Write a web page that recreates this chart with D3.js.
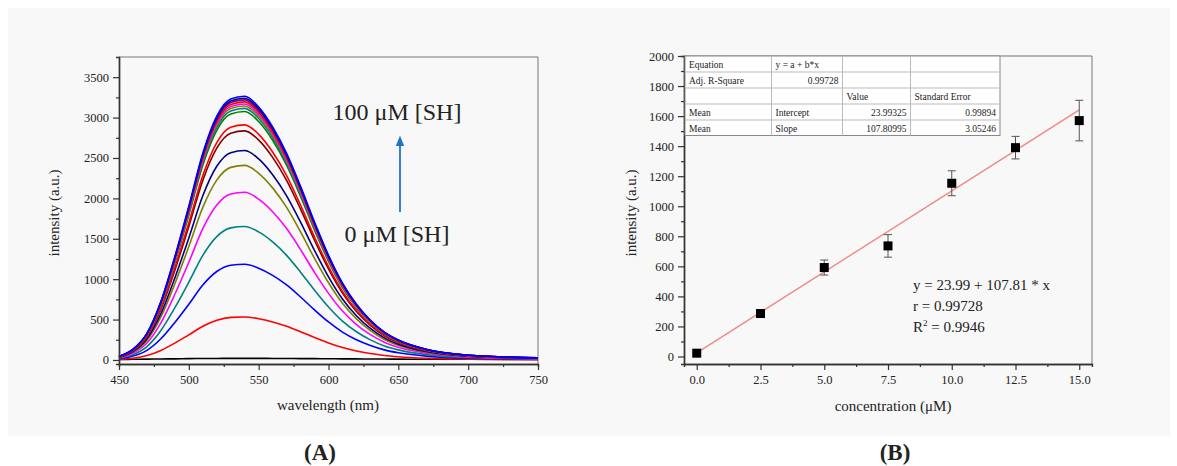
<!DOCTYPE html>
<html lang="en">
<head>
<meta charset="UTF-8">
<title>Fluorescence spectra and calibration</title>
<script src="https://d3js.org/d3.v7.min.js"></script>
<style>
  body { margin: 0; padding: 0; background: #fff; }
  svg text { font-family: "Liberation Serif", "Times New Roman", serif; fill: #222; }
  .domain { stroke: #333; stroke-width: 1.4px; }
  .tick line { stroke: #333; stroke-width: 1.2px; }
</style>
</head>
<body>
<div id="chart"></div>
<script>
// ---- panel A: emission spectra ----
const wavelengths = [450, 460, 470, 480, 490, 500, 510, 520, 530, 540, 550, 560, 570, 580, 590, 600, 610, 620, 630, 640, 650, 670, 700, 750];
const spectrumColors = ["#000000", "#ff0000", "#0000ff", "#008080", "#ff00ff", "#808000", "#000080", "#800000", "#ff0000",
  "#008000", "#008080", "#808000", "#ff00ff", "#ff0000", "#800080", "#000080", "#0000ff"];
const spectra = [
  [5, 8, 10, 12, 14, 16, 18, 19, 20, 20, 20, 19, 18, 17, 16, 15, 14, 13, 12, 11, 10, 9, 8, 7],
  [7, 21, 54, 118, 209, 310, 417, 492, 527, 532, 511, 471, 417, 350, 278, 211, 155, 112, 80, 56, 40, 21, 10, 4],
  [15, 48, 119, 262, 464, 690, 928, 1095, 1172, 1184, 1136, 1047, 928, 779, 619, 470, 345, 250, 179, 125, 89, 48, 21, 10],
  [22, 66, 166, 365, 647, 963, 1295, 1527, 1635, 1652, 1585, 1461, 1295, 1087, 863, 656, 481, 349, 249, 174, 125, 66, 30, 13],
  [27, 83, 209, 459, 813, 1209, 1626, 1918, 2054, 2075, 1991, 1835, 1626, 1366, 1084, 824, 605, 438, 313, 219, 156, 83, 38, 17],
  [31, 97, 242, 532, 944, 1404, 1888, 2226, 2384, 2408, 2311, 2130, 1888, 1585, 1258, 956, 702, 508, 363, 254, 182, 97, 44, 19],
  [34, 104, 261, 573, 1016, 1511, 2032, 2397, 2566, 2592, 2488, 2292, 2032, 1706, 1355, 1029, 755, 547, 391, 274, 195, 104, 47, 21],
  [37, 114, 285, 627, 1112, 1653, 2223, 2622, 2807, 2836, 2722, 2508, 2223, 1867, 1482, 1126, 827, 599, 428, 299, 214, 114, 51, 23],
  [38, 117, 293, 644, 1141, 1697, 2282, 2691, 2881, 2910, 2793, 2574, 2282, 1916, 1521, 1155, 848, 614, 439, 307, 219, 117, 53, 23],
  [40, 124, 309, 680, 1205, 1792, 2410, 2843, 3044, 3075, 2951, 2719, 2410, 2024, 1607, 1221, 896, 649, 464, 324, 232, 124, 56, 25],
  [41, 125, 313, 689, 1221, 1815, 2441, 2880, 3083, 3114, 2989, 2754, 2441, 2050, 1628, 1236, 908, 657, 470, 329, 235, 125, 56, 25],
  [41, 126, 316, 695, 1232, 1833, 2465, 2907, 3113, 3144, 3018, 2781, 2465, 2070, 1643, 1248, 916, 664, 474, 332, 237, 126, 57, 25],
  [41, 127, 319, 701, 1242, 1847, 2484, 2930, 3137, 3169, 3042, 2803, 2484, 2086, 1656, 1258, 924, 669, 478, 334, 239, 127, 57, 25],
  [42, 128, 321, 706, 1252, 1862, 2504, 2953, 3162, 3194, 3066, 2825, 2504, 2103, 1669, 1268, 931, 674, 482, 337, 241, 128, 58, 26],
  [42, 129, 324, 712, 1262, 1876, 2523, 2976, 3186, 3219, 3089, 2847, 2523, 2119, 1682, 1278, 938, 679, 485, 340, 243, 129, 58, 26],
  [42, 130, 326, 716, 1269, 1888, 2539, 2995, 3206, 3239, 3109, 2864, 2539, 2132, 1693, 1286, 944, 684, 488, 342, 244, 130, 59, 26],
  [43, 131, 328, 722, 1279, 1902, 2558, 3018, 3231, 3264, 3132, 2886, 2558, 2148, 1706, 1296, 951, 689, 492, 344, 246, 131, 59, 26]
];
const spectrumYTicks = [0, 500, 1000, 1500, 2000, 2500, 3000, 3500];
const spectrumXTicks = [450, 500, 550, 600, 650, 700, 750];

// ---- panel B: calibration ----
const concentration = [0, 2.5, 5.0, 7.5, 10.0, 12.5, 15.0];
const intensityMean = [22, 286, 592, 736, 1153, 1390, 1570];
const intensityErr = [6, 10, 50, 75, 83, 75, 135];
const fitIntercept = 23.99;
const fitSlope = 107.81;
const fitTable = [
  ["Equation", "y = a + b*x", "", ""],
  ["Adj. R-Square", "0.99728", "", ""],
  ["", "", "Value", "Standard Error"],
  ["Mean", "Intercept", "23.99325", "0.99894"],
  ["Mean", "Slope", "107.80995", "3.05246"]
];
const concTicks = [0, 2.5, 5, 7.5, 10, 12.5, 15];
const calYTicks = d3.range(0, 2001, 200);

const W = 1177, H = 466;
const SERIF = "'Liberation Serif', 'Times New Roman', serif";
const svg = d3.select("#chart").append("svg").attr("width", W).attr("height", H);

svg.append("rect").attr("x", 8).attr("y", 8).attr("width", 1162).attr("height", 428).attr("fill", "#f8f8f8");

function frame(g, x0, x1, y0, y1) {
  g.append("path").attr("d", `M${x0},${y0}H${x1}V${y1}`)
    .attr("fill", "none").attr("stroke", "#777").attr("stroke-width", 1);
}
// axis with serif labels
function styled(sel) {
  sel.attr("font-family", SERIF).attr("font-size", 12.5);
  sel.selectAll("text").style("font-family", SERIF).style("font-size", "12.5px").attr("fill", "#222");
}

// ============ panel A ============
const xA = d3.scaleLinear().domain([450, 750]).range([119, 538]);
const yA = d3.scaleLinear().domain([-50, 3750]).range([364, 57]);
const gA = svg.append("g");

frame(gA, xA.range()[0], xA.range()[1], yA.range()[1], yA.range()[0]);

const line = d3.line().x((d, i) => xA(wavelengths[i])).y(d => yA(d)).curve(d3.curveMonotoneX);
spectra.forEach((s, k) => {
  gA.append("path").datum(s).attr("d", line)
    .attr("fill", "none").attr("stroke", spectrumColors[k]).attr("stroke-width", 1.6);
});

gA.append("g").attr("transform", `translate(0,${yA.range()[0]})`)
  .call(d3.axisBottom(xA).tickValues(d3.range(475, 750, 50)).tickSize(3).tickFormat(""));
gA.append("g").attr("transform", `translate(0,${yA.range()[0]})`)
  .call(d3.axisBottom(xA).tickValues(spectrumXTicks).tickSize(6).tickPadding(5).tickSizeOuter(0).tickFormat(d3.format("d")))
  .call(styled);
gA.append("g").attr("transform", `translate(${xA.range()[0]},0)`)
  .call(d3.axisLeft(yA).tickValues(d3.range(250, 3750, 500)).tickSize(3).tickFormat(""));
gA.append("g").attr("transform", `translate(${xA.range()[0]},0)`)
  .call(d3.axisLeft(yA).tickValues(spectrumYTicks).tickSize(6).tickPadding(4).tickSizeOuter(0).tickFormat(d3.format("d")))
  .call(styled);

gA.append("text").attr("x", 328).attr("y", 410).attr("text-anchor", "middle")
  .attr("font-size", 15).text("wavelength (nm)");
gA.append("text").attr("transform", "translate(59,213) rotate(-90)").attr("text-anchor", "middle")
  .attr("font-size", 15).text("intensity (a.u.)");

gA.append("text").attr("x", 397).attr("y", 120).attr("text-anchor", "middle")
  .attr("font-size", 24).text("100 μM [SH]");
gA.append("text").attr("x", 397).attr("y", 242).attr("text-anchor", "middle")
  .attr("font-size", 24).text("0 μM [SH]");
svg.append("defs").append("marker").attr("id", "arr").attr("viewBox", "0 0 10 10")
  .attr("refX", 5).attr("refY", 5).attr("markerWidth", 6).attr("markerHeight", 6)
  .attr("orient", "auto").append("path").attr("d", "M0,1L10,5L0,9Z").attr("fill", "#1f73cf");
gA.append("line").attr("x1", 400).attr("x2", 400).attr("y1", 212).attr("y2", 141)
  .attr("stroke", "#1f73cf").attr("stroke-width", 1.8).attr("marker-end", "url(#arr)");

// ============ panel B ============
const xB = d3.scaleLinear().domain([-0.5, 15.5]).range([684, 1092]);
const yB = d3.scaleLinear().domain([-50, 2000]).range([364, 56]);
const gB = svg.append("g");

frame(gB, xB.range()[0], xB.range()[1], yB.range()[1], yB.range()[0]);

gB.append("g").attr("transform", `translate(0,${yB.range()[0]})`)
  .call(d3.axisBottom(xB).tickValues(d3.range(1.25, 15.5, 2.5)).tickSize(3).tickFormat(""));
gB.append("g").attr("transform", `translate(0,${yB.range()[0]})`)
  .call(d3.axisBottom(xB).tickValues(concTicks).tickSize(6).tickPadding(5).tickSizeOuter(0).tickFormat(d3.format(".1f")))
  .call(styled);
gB.append("g").attr("transform", `translate(${xB.range()[0]},0)`)
  .call(d3.axisLeft(yB).tickValues(d3.range(100, 2000, 200)).tickSize(3).tickFormat(""));
gB.append("g").attr("transform", `translate(${xB.range()[0]},0)`)
  .call(d3.axisLeft(yB).tickValues(calYTicks).tickSize(6).tickPadding(4).tickSizeOuter(0).tickFormat(d3.format("d")))
  .call(styled);

// fit line
gB.append("line")
  .attr("x1", xB(0)).attr("y1", yB(fitIntercept))
  .attr("x2", xB(15)).attr("y2", yB(fitIntercept + fitSlope * 15))
  .attr("stroke", "#f08a84").attr("stroke-width", 1.4);

// error bars
const eb = gB.append("g").attr("stroke", "#555").attr("stroke-width", 1);
concentration.forEach((c, i) => {
  const x = xB(c), ylo = yB(intensityMean[i] - intensityErr[i]), yhi = yB(intensityMean[i] + intensityErr[i]);
  eb.append("line").attr("x1", x).attr("x2", x).attr("y1", ylo).attr("y2", yhi);
  eb.append("line").attr("x1", x - 4).attr("x2", x + 4).attr("y1", ylo).attr("y2", ylo);
  eb.append("line").attr("x1", x - 4).attr("x2", x + 4).attr("y1", yhi).attr("y2", yhi);
});
gB.selectAll("rect.pt").data(concentration).join("rect").attr("class", "pt")
  .attr("x", d => xB(d) - 4.5).attr("y", (d, i) => yB(intensityMean[i]) - 4.5)
  .attr("width", 9).attr("height", 9).attr("fill", "#000");

// results table
const colX = [685, 771.5, 842.5, 910.5, 1000];
const rowY = [56, 72, 88, 104, 120, 135.5];
const tb = gB.append("g");
tb.append("rect").attr("x", colX[0]).attr("y", rowY[0]).attr("width", colX[4] - colX[0])
  .attr("height", rowY[5] - rowY[0]).attr("fill", "#fff").attr("stroke", "#888").attr("stroke-width", 1);
rowY.slice(1, 5).forEach(y => tb.append("line").attr("x1", colX[0]).attr("x2", colX[4])
  .attr("y1", y).attr("y2", y).attr("stroke", "#bbb"));
colX.slice(1, 4).forEach(x => tb.append("line").attr("x1", x).attr("x2", x)
  .attr("y1", rowY[0]).attr("y2", rowY[5]).attr("stroke", "#bbb"));
const rightAligned = (r, c) => (r === 1 && c === 1) || (r >= 3 && c >= 2);
fitTable.forEach((row, r) => row.forEach((txt, c) => {
  if (!txt) return;
  const ra = rightAligned(r, c);
  tb.append("text").attr("x", ra ? colX[c + 1] - 4 : colX[c] + 4).attr("y", rowY[r] + 11.5)
    .attr("text-anchor", ra ? "end" : "start").attr("font-size", 9.5).text(txt);
}));

// fit annotation
const ann = gB.append("g").attr("font-size", 15);
ann.append("text").attr("x", 913).attr("y", 290).text("y = 23.99 + 107.81 * x");
ann.append("text").attr("x", 913).attr("y", 311).text("r = 0.99728");
const r2 = ann.append("text").attr("x", 913).attr("y", 332);
r2.append("tspan").text("R");
r2.append("tspan").attr("dy", -6).attr("font-size", 9).text("2");
r2.append("tspan").attr("dy", 6).text(" = 0.9946");

gB.append("text").attr("x", 893).attr("y", 411).attr("text-anchor", "middle")
  .attr("font-size", 15).text("concentration (μM)");
gB.append("text").attr("transform", "translate(636,213) rotate(-90)").attr("text-anchor", "middle")
  .attr("font-size", 15).text("intensity (a.u.)");

// panel labels
svg.append("text").attr("x", 320).attr("y", 460).attr("text-anchor", "middle")
  .attr("font-size", 23).attr("font-weight", "bold").text("(A)");
svg.append("text").attr("x", 895).attr("y", 460).attr("text-anchor", "middle")
  .attr("font-size", 23).attr("font-weight", "bold").text("(B)");
</script>
</body>
</html>
